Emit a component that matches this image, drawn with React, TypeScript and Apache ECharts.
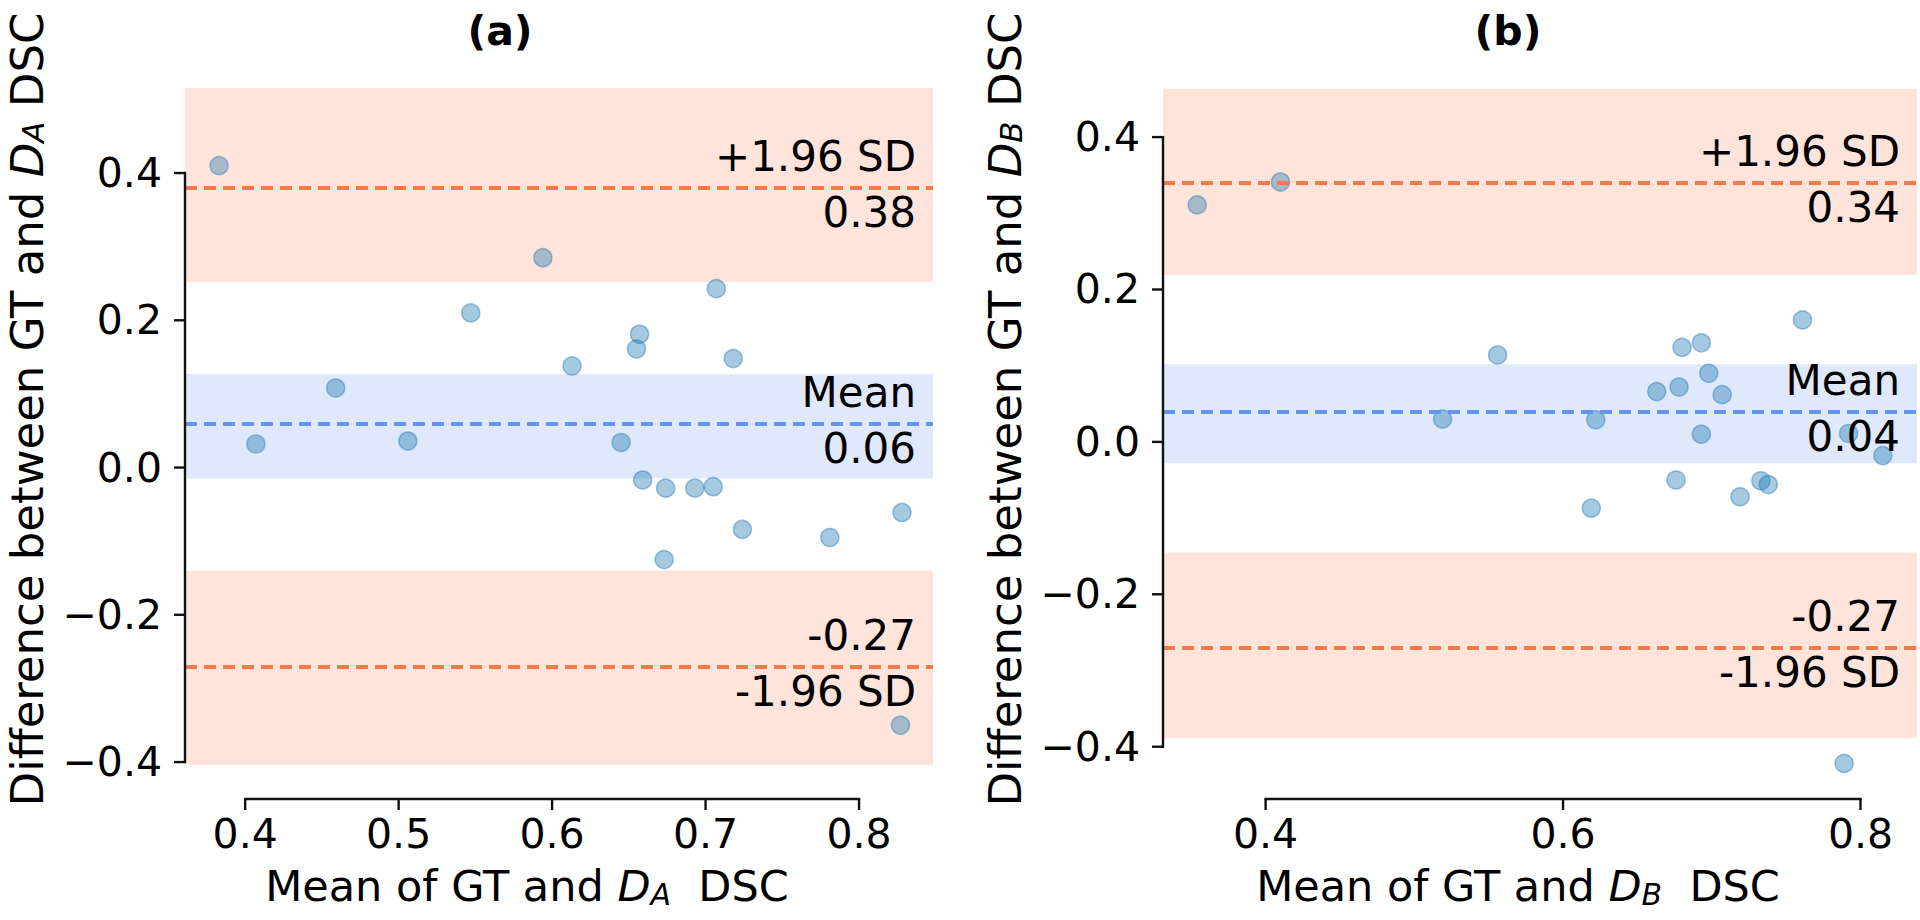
import React, { useEffect, useRef } from "react";
import * as echarts from "echarts";

// ---------- data ----------
// Panel (a): mean of GT and D_A DSC vs difference
const meanA = [0.383, 0.594, 0.707, 0.547, 0.657, 0.655, 0.718, 0.613, 0.459, 0.407, 0.506, 0.645, 0.659, 0.674, 0.693, 0.705, 0.828, 0.724, 0.781, 0.673, 0.827];
const diffA = [0.41, 0.285, 0.243, 0.21, 0.181, 0.161, 0.148, 0.138, 0.108, 0.032, 0.036, 0.034, -0.017, -0.028, -0.028, -0.026, -0.061, -0.084, -0.095, -0.125, -0.35];
// Panel (b): mean of GT and D_B DSC vs difference
const meanB = [0.354, 0.41, 0.761, 0.693, 0.68, 0.556, 0.698, 0.678, 0.663, 0.707, 0.519, 0.622, 0.693, 0.792, 0.815, 0.676, 0.733, 0.738, 0.719, 0.619, 0.789];
const diffB = [0.311, 0.341, 0.16, 0.13, 0.124, 0.114, 0.09, 0.072, 0.066, 0.062, 0.03, 0.029, 0.01, 0.011, -0.018, -0.05, -0.051, -0.056, -0.072, -0.087, -0.422];

// Bland-Altman statistics: [mean, upper LoA, lower LoA]
const statsA = [0.056, 0.384, -0.272];
const ciA = [0.071, 0.132, 0.132];
const statLabelsA = ["0.06", "0.38", "-0.27"];
const statsB = [0.037, 0.341, -0.267];
const ciB = [0.065, 0.122, 0.122];
const statLabelsB = ["0.04", "0.34", "-0.27"];

// tick values
const xTicksA = [0.4, 0.5, 0.6, 0.7, 0.8];
const xTicksB = [0.4, 0.6, 0.8];
const yTicks = [-0.4, -0.2, 0.0, 0.2, 0.4];

const titles = ["(a)", "(b)"];
const subs = ["A", "B"];

// ---------- layout / style ----------
const FONT = "DejaVu Sans";
const FS_TICK = 41;
const ORANGE = "#f47a4c";
const BLUE_LINE = "#6495ed";
const ORANGE_BAND = "#ffe4db";
const BLUE_BAND = "#e0e9fb";
const POINT_FILL = "rgba(31,119,180,0.5)";
const POINT_EDGE = "rgba(31,119,180,0.55)";
const INK = "#111111";

const panels = [
  { left: 185, top: 88, width: 748, height: 677, xMin: 0.3608, xMax: 0.8482, yMin: -0.404, yMax: 0.5155, titleX: 500, nameShift: 32,
    xs: meanA, ys: diffA, stats: statsA, ci: ciA, statLabels: statLabelsA, xTicks: xTicksA },
  { left: 1163, top: 88, width: 754, height: 677, xMin: 0.331, xMax: 0.838, yMin: -0.424, yMax: 0.4644, titleX: 1508, nameShift: 22,
    xs: meanB, ys: diffB, stats: statsB, ci: ciB, statLabels: statLabelsB, xTicks: xTicksB },
];

const X_SPINE_Y = 799;
const TICK_LEN = 11;
const SPINE_W = 2.4;

const fmtTick = (v: number) => (v < 0 ? "\u2212" : "") + Math.abs(v).toFixed(1);

const tickText = { fontFamily: FONT, fontSize: FS_TICK, color: "#000" };
const annText = { fontFamily: FONT, fontSize: 42, color: "#000" };
const makeRich = (fs: number, lh: number) => ({
  t: { fontFamily: FONT, fontSize: fs, color: "#000", lineHeight: lh },
  it: { fontFamily: FONT, fontSize: fs, color: "#000", fontStyle: "italic", lineHeight: lh },
  sub: { fontFamily: FONT, fontSize: Math.round(fs * 0.7), color: "#000", fontStyle: "italic", lineHeight: 22, verticalAlign: "bottom" },
});

const bareAxis = (gridIndex: number, min: number, max: number) => ({
  gridIndex, type: "value", min, max,
  axisLine: { show: false }, axisTick: { show: false }, axisLabel: { show: false }, splitLine: { show: false },
});

// filled bar used for spines / ticks
const inkRect = (x: number, y: number, width: number, height: number) => ({
  type: "rect", z: 60, silent: true,
  shape: { x, y, width, height },
  style: { fill: INK },
});

function buildOption() {
  const grid: any[] = [];
  const xAxis: any[] = [];
  const yAxis: any[] = [];
  const series: any[] = [];
  const graphic: any[] = [];

  panels.forEach((p, i) => {
    const xT = p.xTicks;
    const x0 = xT[0], x1 = xT[xT.length - 1];
    const y0 = yTicks[0], y1 = yTicks[yTicks.length - 1];
    const pxX = p.width / (p.xMax - p.xMin);
    const pxY = p.height / (p.yMax - p.yMin);
    const toPxX = (v: number) => p.left + (v - p.xMin) * pxX;
    const toPxY = (v: number) => p.top + (p.yMax - v) * pxY;
    const axLeft = toPxX(x0);
    const axW = toPxX(x1) - axLeft;
    const axTop = toPxY(y1);
    const axH = toPxY(y0) - axTop;

    const gData = grid.length;
    grid.push({ left: p.left, top: p.top, width: p.width, height: p.height });
    const gX = grid.length;
    grid.push({ left: axLeft, top: X_SPINE_Y - TICK_LEN, width: axW, height: TICK_LEN });
    const gY = grid.length;
    grid.push({ left: p.left, top: axTop, width: TICK_LEN, height: axH });

    const nameX = `{t|Mean of GT and }{it|D}{sub|${subs[i]}}{t|  DSC}`;
    const nameY = `{t|Difference between GT and }{it|D}{sub|${subs[i]}}{t| DSC}`;

    // data axes (invisible lines; they carry the axis names)
    xAxis.push({
      ...bareAxis(gData, p.xMin, p.xMax),
      name: nameX, nameLocation: "middle", nameGap: 98,
      nameTextStyle: { rich: makeRich(43, 46), padding: [0, p.nameShift * 2, 0, 0] },
    });
    yAxis.push({
      ...bareAxis(gData, p.yMin, p.yMax),
      name: nameY, nameLocation: "middle", nameGap: 137,
      nameTextStyle: { rich: makeRich(45, 42), padding: [0, 0, 0, 34] },
    });

    // tick-label axes on their own (trimmed) grids
    xAxis.push({
      gridIndex: gX, type: "value", min: x0, max: x1, interval: xT[1] - xT[0], position: "bottom",
      axisLine: { show: false, onZero: false }, axisTick: { show: false },
      axisLabel: { ...tickText, margin: 14, formatter: fmtTick },
      splitLine: { show: false },
    });
    yAxis.push(bareAxis(gX, -1, 0));
    xAxis.push(bareAxis(gY, 0, 1));
    yAxis.push({
      gridIndex: gY, type: "value", min: y0, max: y1, interval: yTicks[1] - yTicks[0], position: "left",
      axisLine: { show: false, onZero: false }, axisTick: { show: false },
      axisLabel: { ...tickText, margin: 23, formatter: fmtTick },
      splitLine: { show: false },
    });

    // trimmed spines and outward ticks (same scale mapping as the axes)
    const h = SPINE_W / 2;
    graphic.push(inkRect(axLeft - h, X_SPINE_Y - h, axW + SPINE_W, SPINE_W));
    xT.forEach((v) => graphic.push(inkRect(toPxX(v) - h, X_SPINE_Y, SPINE_W, TICK_LEN)));
    graphic.push(inkRect(p.left - h, axTop - h, SPINE_W, axH + SPINE_W));
    yTicks.forEach((v) => graphic.push(inkRect(p.left - TICK_LEN, toPxY(v) - h, TICK_LEN, SPINE_W)));

    const [m, up, lo] = p.stats;
    const [cm, cu, cl] = p.ci;
    series.push({
      type: "line", xAxisIndex: gData, yAxisIndex: gData, data: [], z: 1, silent: true,
      markArea: {
        silent: true,
        data: [
          [{ yAxis: up - cu, itemStyle: { color: ORANGE_BAND } }, { yAxis: up + cu }],
          [{ yAxis: m - cm, itemStyle: { color: BLUE_BAND } }, { yAxis: m + cm }],
          [{ yAxis: lo - cl, itemStyle: { color: ORANGE_BAND } }, { yAxis: lo + cl }],
        ],
      },
    });
    const lblTop = (text: string) => ({ show: true, position: "insideEndTop", formatter: text, ...annText, distance: [17, 10] });
    const lblBot = (text: string) => ({ show: true, position: "insideEndBottom", formatter: text, ...annText, distance: [17, 4] });
    const dashed = (c: string) => ({ color: c, width: 3.8, type: [12, 7] });
    const hidden = { color: "rgba(0,0,0,0)", width: 0.1, type: "solid" };
    series.push({
      type: "line", xAxisIndex: gData, yAxisIndex: gData, data: [], z: 2, silent: true,
      markLine: {
        silent: true, symbol: "none", animation: false,
        data: [
          { yAxis: up, lineStyle: dashed(ORANGE), label: lblTop("+1.96 SD") },
          { yAxis: up, lineStyle: hidden, label: lblBot(p.statLabels[1]) },
          { yAxis: m, lineStyle: dashed(BLUE_LINE), label: lblTop("Mean") },
          { yAxis: m, lineStyle: hidden, label: lblBot(p.statLabels[0]) },
          { yAxis: lo, lineStyle: dashed(ORANGE), label: lblTop(p.statLabels[2]) },
          { yAxis: lo, lineStyle: hidden, label: lblBot("-1.96 SD") },
        ],
      },
    });
    series.push({
      type: "scatter", xAxisIndex: gData, yAxisIndex: gData, z: 3, clip: false, silent: true,
      symbol: "circle", symbolSize: 18,
      itemStyle: { color: POINT_FILL, borderColor: POINT_EDGE, borderWidth: 1.5 },
      data: p.xs.map((x, k) => [x, p.ys[k]]),
    });

    graphic.push({
      type: "text", x: p.titleX, y: 31, z: 60,
      style: { text: titles[i], fontFamily: FONT, fontSize: 41, fontWeight: "bold", fill: "#000", align: "center", verticalAlign: "middle" },
    });
  });

  return { animation: false, backgroundColor: "#fff", grid, xAxis, yAxis, series, graphic };
}

export default function App() {
  const ref = useRef<HTMLDivElement>(null);
  useEffect(() => {
    if (!ref.current) return;
    const chart = echarts.init(ref.current, undefined, { renderer: "svg" });
    chart.setOption(buildOption() as any);
    return () => chart.dispose();
  }, []);
  return <div ref={ref} style={{ position: "fixed", left: 0, top: 0, width: 1920, height: 920 }} />;
}
